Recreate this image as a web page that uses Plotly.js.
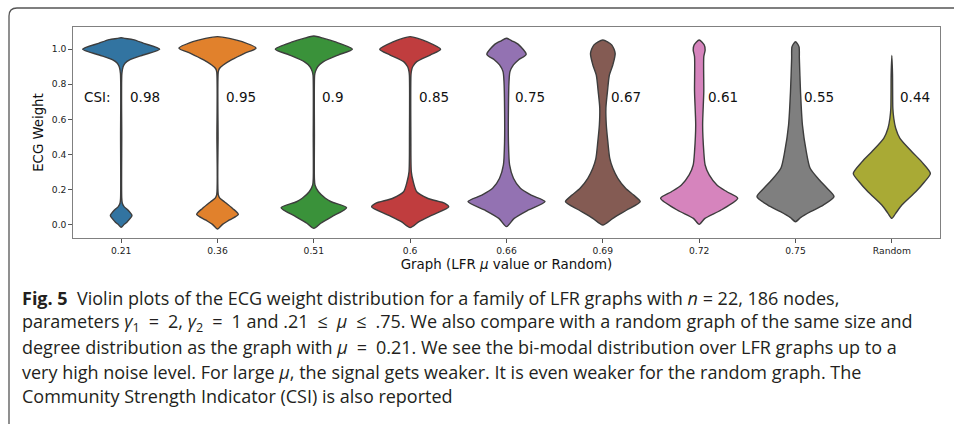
<!DOCTYPE html>
<html>
<head>
<meta charset="utf-8">
<script src="https://cdn.plot.ly/plotly-3.0.1.min.js"></script>
<style>html,body{margin:0;padding:0;background:#fff;}#chart{width:954px;height:424px;}</style>
</head>
<body>
<div id="chart"></div>
<script>
// ---- data ----
const categories = ['0.21','0.36','0.51','0.6','0.66','0.69','0.72','0.75','Random'];
const csiLabels = ['0.98','0.95','0.9','0.85','0.75','0.67','0.61','0.55','0.44'];
const csiLevel = 0.727;

// ECG weight levels (y) and relative density (half-width, 1 = widest) for each violin
const y021 = [-0.017, 0.0, 0.015, 0.05, 0.085, 0.10, 0.12, 0.15, 0.5, 0.86, 0.90, 0.92, 0.94, 0.967, 1.0, 1.035, 1.055, 1.062, 1.066];
const d021 = [0, 0.08, 0.16, 0.28, 0.16, 0.08, 0.03, 0.015, 0.015, 0.018, 0.05, 0.10, 0.23, 0.57, 1.0, 0.57, 0.31, 0.1, 0];
const y036 = [-0.027, 0.0, 0.025, 0.057, 0.091, 0.129, 0.15, 0.17, 0.5, 0.87, 0.89, 0.91, 0.939, 0.977, 1.006, 1.043, 1.062, 1.072];
const d036 = [0, 0.13, 0.31, 0.54, 0.39, 0.18, 0.06, 0.02, 0.015, 0.02, 0.05, 0.15, 0.36, 0.70, 1.0, 0.64, 0.31, 0];
const y051 = [-0.023, 0.006, 0.043, 0.095, 0.129, 0.149, 0.186, 0.225, 0.26, 0.5, 0.85, 0.872, 0.90, 0.929, 0.967, 1.0, 1.043, 1.062, 1.076];
const d051 = [0, 0.18, 0.46, 0.85, 0.45, 0.30, 0.12, 0.03, 0.015, 0.015, 0.02, 0.04, 0.10, 0.25, 0.63, 1.0, 0.54, 0.26, 0];
const y060 = [-0.019, 0.015, 0.053, 0.10, 0.12, 0.149, 0.186, 0.243, 0.30, 0.5, 0.85, 0.872, 0.90, 0.929, 0.967, 1.0, 1.043, 1.062, 1.072];
const d060 = [0, 0.23, 0.57, 1.0, 0.9, 0.45, 0.17, 0.08, 0.03, 0.018, 0.02, 0.03, 0.065, 0.17, 0.52, 0.79, 0.43, 0.2, 0];
const y066 = [-0.013, 0.034, 0.082, 0.13, 0.167, 0.206, 0.263, 0.339, 0.472, 0.665, 0.815, 0.872, 0.911, 0.939, 0.971, 1.025, 1.047, 1.063];
const d066 = [0, 0.2, 0.57, 1.0, 0.64, 0.36, 0.18, 0.08, 0.05, 0.05, 0.065, 0.09, 0.18, 0.31, 0.51, 0.32, 0.15, 0];
const y069 = [-0.004, 0.034, 0.082, 0.13, 0.167, 0.206, 0.263, 0.32, 0.377, 0.472, 0.567, 0.665, 0.758, 0.853, 0.911, 0.977, 1.025, 1.053];
const d069 = [0, 0.26, 0.62, 0.97, 0.8, 0.59, 0.39, 0.26, 0.18, 0.13, 0.09, 0.08, 0.12, 0.17, 0.26, 0.32, 0.23, 0];
const y072 = [0.0, 0.034, 0.082, 0.149, 0.186, 0.225, 0.282, 0.339, 0.415, 0.567, 0.758, 0.958, 0.996, 1.025, 1.053];
const d072 = [0, 0.15, 0.57, 1.0, 0.72, 0.46, 0.26, 0.155, 0.12, 0.09, 0.12, 0.12, 0.155, 0.13, 0];
const y075 = [0.015, 0.038, 0.072, 0.11, 0.158, 0.206, 0.253, 0.32, 0.415, 0.567, 0.758, 0.949, 1.015, 1.043];
const d075 = [0, 0.13, 0.39, 0.72, 1.0, 0.82, 0.62, 0.38, 0.28, 0.18, 0.13, 0.10, 0.09, 0];
const yRnd = [0.034, 0.063, 0.11, 0.186, 0.243, 0.291, 0.358, 0.415, 0.491, 0.549, 0.606, 0.663, 0.853, 0.964];
const dRnd = [0, 0.10, 0.26, 0.62, 0.85, 1.0, 0.77, 0.52, 0.21, 0.10, 0.05, 0.026, 0.018, 0];

const yLevels = [y021, y036, y051, y060, y066, y069, y072, y075, yRnd];
const densities = [d021, d036, d051, d060, d066, d069, d072, d075, dRnd];

// ---- styling ----
const fills = ['#3274a1','#e1812c','#3a923a','#c03d3e','#9372b2','#845b53','#d684bd','#7f7f7f','#a9aa35'];
const HALF = 0.4;          // half of violin width (category units)
const W = 954, H = 424;
const L = 73, R = 940, T = 27, B = 238;
const px2x = p => (p - L) / (R - L);
const py2y = p => (B - p) / (B - T);

const traces = categories.map((c, i) => {
  const ys = yLevels[i], ds = densities[i];
  const xr = ds.map(d => i + d * HALF);
  const xl = ds.map(d => i - d * HALF).reverse().slice(1);
  const yl = ys.slice().reverse().slice(1);
  return {
    type: 'scatter', mode: 'lines',
    x: xr.concat(xl), y: ys.concat(yl),
    fill: 'toself', fillcolor: fills[i],
    line: {color: '#3d3d3d', width: 1.4, shape: 'spline', smoothing: 0.7},
    hoverinfo: 'skip', showlegend: false
  };
});

const annotations = [];
annotations.push({x: -0.405, y: csiLevel, xref: 'x', yref: 'y', text: 'CSI:', showarrow: false,
  xanchor: 'left', yanchor: 'middle', font: {family: 'DejaVu Sans', size: 13.5, color: '#111'}});
csiLabels.forEach((t, i) => annotations.push({x: i + 0.066, y: csiLevel, xref: 'x', yref: 'y', text: t,
  showarrow: false, xanchor: 'left', yanchor: 'middle', font: {family: 'DejaVu Sans', size: 13.5, color: '#111'}}));

const S = '\u2002'; // math spacing around relations
const captionLines = [
  '<b>Fig. 5</b>  Violin plots of the ECG weight distribution for a family of LFR graphs with <i>n</i> = 22, 186 nodes,',
  `parameters <i>γ</i><sub>1</sub>${S}=${S}2, <i>γ</i><sub>2</sub>${S}=${S}1 and .21${S}≤${S}<i>μ</i>${S}≤${S}.75. We also compare with a random graph of the same size and`,
  `degree distribution as the graph with <i>μ</i>${S}=${S}0.21. We see the bi-modal distribution over LFR graphs up to a`,
  'very high noise level. For large <i>μ</i>, the signal gets weaker. It is even weaker for the random graph. The',
  'Community Strength Indicator (CSI) is also reported'
];
const captionY = [298, 322.5, 347, 371.5, 396];
captionLines.forEach((t, k) => annotations.push({x: px2x(20), y: py2y(captionY[k]), xref: 'paper', yref: 'paper',
  text: t, showarrow: false, xanchor: 'left', yanchor: 'middle', align: 'left',
  font: {family: 'Open Sans, sans-serif', size: 18, color: '#231f20'}}));

const frameR = 8;
const framePath = `M ${px2x(9)},${py2y(440)} L ${px2x(9)},${py2y(8 + frameR)} Q ${px2x(9)},${py2y(8)} ${px2x(9 + frameR)},${py2y(8)} L ${px2x(970)},${py2y(8)}`;

const layout = {
  width: W, height: H,
  margin: {l: L, r: W - R, t: T, b: H - B},
  paper_bgcolor: '#fff', plot_bgcolor: '#fff',
  showlegend: false,
  xaxis: {
    range: [-0.5, 8.5], tickvals: categories.map((c, i) => i), ticktext: categories,
    showgrid: false, zeroline: false, showline: true, mirror: true, linecolor: '#808080', linewidth: 1.2,
    ticks: 'outside', ticklen: 3.5, tickcolor: '#555', tickwidth: 1,
    tickfont: {family: 'DejaVu Sans', size: 9.2, color: '#222'},
    title: {text: 'Graph (LFR <i>μ</i> value or Random)', font: {family: 'DejaVu Sans', size: 13.4, color: '#111'}, standoff: 4},
    automargin: false, fixedrange: true
  },
  yaxis: {
    range: [-0.078, 1.127], tickvals: [0, 0.2, 0.4, 0.6, 0.8, 1.0], tickformat: '.1f',
    showgrid: false, zeroline: false, showline: true, mirror: true, linecolor: '#808080', linewidth: 1.2,
    ticks: 'outside', ticklen: 3.5, tickcolor: '#555', tickwidth: 1,
    tickfont: {family: 'DejaVu Sans', size: 9.2, color: '#222'},
    title: {text: 'ECG Weight', font: {family: 'DejaVu Sans', size: 13.3, color: '#111'}, standoff: 5},
    automargin: false, fixedrange: true
  },
  shapes: [{type: 'path', xref: 'paper', yref: 'paper', path: framePath, line: {color: '#555', width: 1.3}}],
  annotations: annotations
};

Plotly.newPlot('chart', traces, layout, {displayModeBar: false, staticPlot: true});
</script>
</body>
</html>
